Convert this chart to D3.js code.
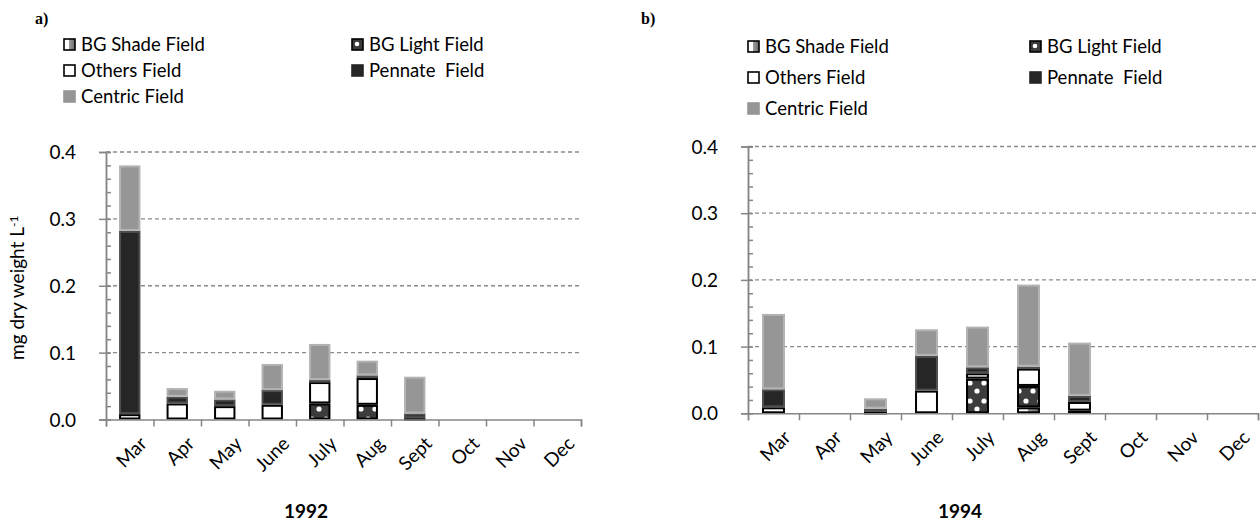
<!DOCTYPE html>
<html>
<head>
<meta charset="utf-8">
<script src="https://cdn.jsdelivr.net/npm/d3@7/dist/d3.min.js"></script>
<style>
  html, body { margin: 0; padding: 0; background: #fff; }
  svg { display: block; }
  text { font-family: Lato, "Open Sans", "Liberation Sans", sans-serif; fill: #000; }
</style>
</head>
<body>
<svg id="chart" width="1260" height="527"></svg>
<script>
// Months sampled in each year
const months = ["Mar", "Apr", "May", "June", "July", "Aug", "Sept", "Oct", "Nov", "Dec"];

// Series names, bottom of the stack first
const seriesNames = ["BG Shade Field", "BG Light Field", "Others Field", "Pennate  Field", "Centric Field"];

// 1992 biomass (mg dry weight per litre)
const bgShade1992 = [0, 0, 0, 0, 0, 0, 0, 0, 0, 0];
const bgLight1992 = [0, 0, 0, 0, 0.024, 0.022, 0, 0, 0, 0];
const others1992  = [0.008, 0.024, 0.020, 0.022, 0.032, 0.040, 0.002, 0, 0, 0];
const pennate1992 = [0.274, 0.010, 0.010, 0.022, 0.003, 0.004, 0.007, 0, 0, 0];
const centric1992 = [0.098, 0.013, 0.013, 0.039, 0.054, 0.022, 0.055, 0, 0, 0];

// 1994 biomass (mg dry weight per litre)
const bgShade1994 = [0, 0, 0, 0, 0, 0.009, 0, 0, 0, 0];
const bgLight1994 = [0, 0, 0, 0, 0.052, 0.032, 0.004, 0, 0, 0];
const others1994  = [0.009, 0, 0.002, 0.034, 0.008, 0.026, 0.013, 0, 0, 0];
const pennate1994 = [0.027, 0, 0.005, 0.052, 0.009, 0.003, 0.009, 0, 0, 0];
const centric1994 = [0.113, 0, 0.0155, 0.040, 0.061, 0.123, 0.080, 0, 0, 0];

// Y axis ticks
const yTicks = [0, 0.1, 0.2, 0.3, 0.4];
const yMinorTicks = d3.range(0, 0.4001, 0.02);

const svg = d3.select("#chart");
const defs = svg.append("defs");

// Dotted fill for the BG Light series
const dots = defs.append("pattern")
  .attr("id", "dots").attr("patternUnits", "userSpaceOnUse")
  .attr("width", 14).attr("height", 18);
dots.append("rect").attr("width", 14).attr("height", 18).attr("fill", "#3c3c3c");
dots.append("circle").attr("cx", 4).attr("cy", 5).attr("r", 2.6).attr("fill", "#fff");
dots.append("circle").attr("cx", 11).attr("cy", 13).attr("r", 2.6).attr("fill", "#fff");

// Half white / grey fill for the BG Shade series
const shade = defs.append("linearGradient").attr("id", "shade")
  .attr("x1", 0).attr("x2", 1).attr("y1", 0).attr("y2", 0);
shade.append("stop").attr("offset", "0%").attr("stop-color", "#ffffff");
shade.append("stop").attr("offset", "45%").attr("stop-color", "#ffffff");
shade.append("stop").attr("offset", "50%").attr("stop-color", "#9a9a9a");
shade.append("stop").attr("offset", "100%").attr("stop-color", "#6a6a6a");

const seriesStyle = {
  "BG Shade Field": { fill: "url(#shade)", stroke: "#000", sw: 2 },
  "BG Light Field": { fill: "url(#dots)", stroke: "#000", sw: 2 },
  "Others Field":   { fill: "#ffffff", stroke: "#000", sw: 2 },
  "Pennate  Field": { fill: "#262626", stroke: "#4e4e4e", sw: 2 },
  "Centric Field":  { fill: "#969696", stroke: "#b3b3b3", sw: 2 }
};

function drawPanel(opt) {
  const g = svg.append("g");
  const table = months.map((m, i) => {
    const row = { month: m };
    seriesNames.forEach((s, k) => { row[s] = opt.series[k][i]; });
    return row;
  });

  const x = d3.scaleBand().domain(months).range([opt.x0, opt.x1])
    .paddingInner(0.55).paddingOuter(0.275);
  const xEdge = d3.scaleLinear().domain([0, months.length]).range([opt.x0, opt.x1]);
  const y = d3.scaleLinear().domain([0, 0.4]).range([opt.yBase, opt.yTop]);

  // Dashed gridlines
  g.append("g").selectAll("line").data(yTicks.slice(1)).join("line")
    .attr("x1", opt.x0).attr("x2", opt.x1)
    .attr("y1", d => y(d)).attr("y2", d => y(d))
    .attr("stroke", "#8a8a8a").attr("stroke-width", 1.3)
    .attr("stroke-dasharray", "4,3");

  // Stacked bars
  const stacked = d3.stack().keys(seriesNames)(table);
  stacked.forEach(layer => {
    const st = seriesStyle[layer.key];
    g.append("g").selectAll("rect")
      .data(layer.filter(d => d[1] - d[0] > 0))
      .join("rect")
      .attr("x", d => x(d.data.month) + st.sw / 2)
      .attr("width", x.bandwidth() - st.sw)
      .attr("y", d => y(d[1]) + st.sw / 2)
      .attr("height", d => Math.max(0.5, y(d[0]) - y(d[1]) - st.sw))
      .attr("fill", st.fill)
      .attr("stroke", st.stroke)
      .attr("stroke-width", st.sw);
  });

  // Y axis with outer major ticks and inner minor ticks
  const yAxis = g.append("g").attr("transform", `translate(${opt.x0},0)`)
    .call(d3.axisLeft(y).tickValues(yTicks).tickFormat(d3.format(".1f")).tickSize(7).tickPadding(24));
  yAxis.selectAll("text").style("font-size", "19px").attr("text-anchor", "end")
    .attr("x", -30).attr("dy", "0.35em");
  g.append("g").attr("transform", `translate(${opt.x0},0)`)
    .call(d3.axisRight(y).tickValues(yMinorTicks).tickSize(5).tickFormat(""));

  // X axis with ticks at category boundaries
  g.append("g").attr("transform", `translate(0,${opt.yBase})`)
    .call(d3.axisBottom(xEdge).tickValues(d3.range(months.length + 1)).tickSize(7).tickFormat(""));

  g.selectAll(".domain").attr("stroke", "#868686").attr("stroke-width", 1.5);
  g.selectAll(".tick line").attr("stroke", "#868686").attr("stroke-width", 1.5);

  // Rotated month labels, reading upward to the right
  g.append("g").selectAll("text").data(months).join("text")
    .attr("transform", d => `translate(${x(d) + x.bandwidth() / 2 + 9},${opt.yBase + 16}) rotate(-45)`)
    .attr("text-anchor", "end")
    .attr("dy", "0.7em")
    .style("font-size", "19px")
    .text(d => d);

  // Year title
  g.append("text").attr("x", opt.yearX).attr("y", 518)
    .attr("text-anchor", "middle").style("font-size", "19px").style("font-weight", "bold")
    .text(opt.year);

  // Panel letter
  g.append("text").attr("x", opt.letterX).attr("y", 24)
    .style("font-family", "'Liberation Serif', 'DejaVu Serif', serif")
    .style("font-size", "16px").style("font-weight", "bold")
    .text(opt.letter);

  // Legend in two columns, filled row by row
  const legend = g.append("g");
  seriesNames.forEach((s, k) => {
    const col = k % 2, row = Math.floor(k / 2);
    const lx = opt.legX[col], ly = opt.legY[row];
    const st = seriesStyle[s];
    legend.append("rect").attr("x", lx + 1).attr("y", ly - 6).attr("width", 11).attr("height", 11)
      .attr("fill", s === "BG Light Field" ? "#3c3c3c" : st.fill)
      .attr("stroke", s === "Pennate  Field" ? "#262626" : (s === "Centric Field" ? "#969696" : st.stroke))
      .attr("stroke-width", 1.6);
    if (s === "BG Light Field") {
      legend.append("circle").attr("cx", lx + 6).attr("cy", ly - 1).attr("r", 2.3).attr("fill", "#fff");
    }
    legend.append("text").attr("x", lx + 18).attr("y", ly).attr("dy", "0.35em")
      .style("font-size", "18.5px").style("white-space", "pre").attr("xml:space", "preserve")
      .text(s);
  });

  // Y axis title
  if (opt.yTitle) {
    const t = g.append("text")
      .attr("transform", `translate(24,${(opt.yBase + opt.yTop) / 2 + 2}) rotate(-90)`)
      .attr("text-anchor", "middle").style("font-size", "19px");
    t.append("tspan").text("mg dry weight L");
    t.append("tspan").attr("dy", "-0.5em").style("font-size", "12px").text("-1");
  }
}

drawPanel({
  series: [bgShade1992, bgLight1992, others1992, pennate1992, centric1992],
  x0: 106, x1: 581, yBase: 419.5, yTop: 152,
  year: "1992", yearX: 306, letter: "a)", letterX: 35,
  legX: [63, 351], legY: [45, 71, 97], yTitle: true
});

drawPanel({
  series: [bgShade1994, bgLight1994, others1994, pennate1994, centric1994],
  x0: 748, x1: 1258, yBase: 413.3, yTop: 146.5,
  year: "1994", yearX: 960, letter: "b)", letterX: 641,
  legX: [747, 1029], legY: [47, 78, 109], yTitle: false
});
</script>
</body>
</html>
